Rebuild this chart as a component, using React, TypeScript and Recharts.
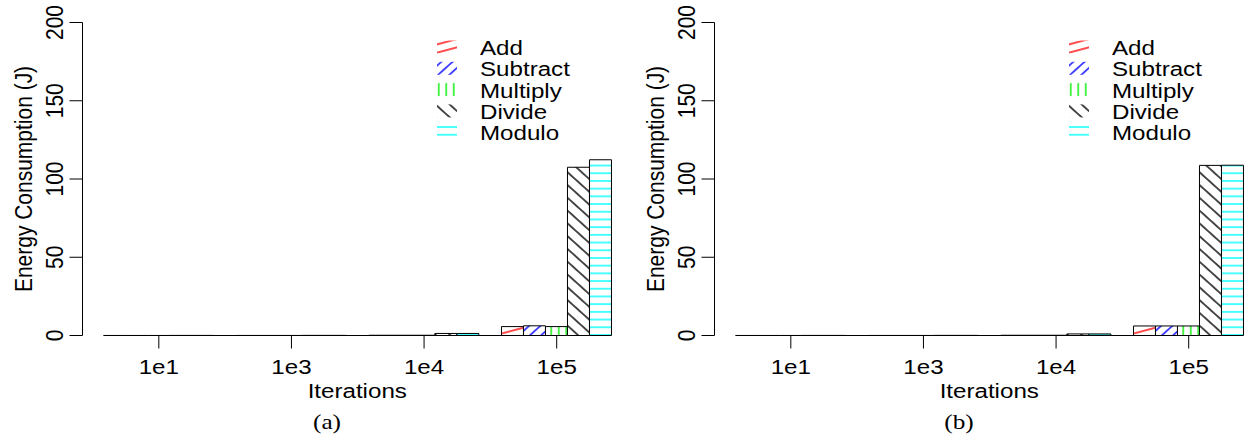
import { BarChart, Bar, XAxis, YAxis, ReferenceLine, Legend } from 'recharts'

const iterations = ['1e1', '1e3', '1e4', '1e5']
const yTicks = [0, 50, 100, 150, 200]

// energy in joules, panel (a)
const addA = [0.02, 0.03, 0.15, 5.7]
const subtractA = [0.02, 0.03, 0.15, 6.2]
const multiplyA = [0.02, 0.03, 0.15, 5.7]
const divideA = [0.05, 0.08, 1.3, 107.5]
const moduloA = [0.05, 0.08, 1.3, 112.3]

// energy in joules, panel (b)
const addB = [0.02, 0.03, 0.15, 6.1]
const subtractB = [0.02, 0.03, 0.15, 6.1]
const multiplyB = [0.02, 0.03, 0.15, 6.1]
const divideB = [0.05, 0.08, 1.0, 108.7]
const moduloB = [0.05, 0.08, 1.0, 108.8]

// hatch style per operation
const series = [
  { key: 'add', name: 'Add', color: '#ff0000', angle: -15, gap: 8 },
  { key: 'subtract', name: 'Subtract', color: '#0000ff', angle: -42, gap: 7.5 },
  { key: 'multiply', name: 'Multiply', color: '#00ee00', angle: 90, gap: 7.5 },
  { key: 'divide', name: 'Divide', color: '#000000', angle: 42, gap: 9.5 },
  { key: 'modulo', name: 'Modulo', color: '#00ffff', angle: 0, gap: 7.7 },
]

const SANS = '"Liberation Sans", Arial, sans-serif'
const SERIF = '"Liberation Serif", "Times New Roman", serif'
const FONT = 21
const SX = 1.15 // glyphs are a bit wide in the original plot

function buildRows(vals: Record<string, number[]>) {
  return iterations.map((iter, i) => {
    const row: Record<string, string | number> = { iter }
    for (const s of series) row[s.key] = vals[s.key][i]
    return row
  })
}

function Txt({ x, y, rotate, anchor = 'middle', family = SANS, size = FONT, children }: any) {
  const t = `translate(${x},${y}) scale(${SX},1)` + (rotate ? ` rotate(${rotate})` : '')
  return (
    <text transform={t} textAnchor={anchor} fontSize={size} fontFamily={family} fill="#000">
      {children}
    </text>
  )
}

function XTick({ x, y, payload }: any) {
  return <Txt x={x} y={y + 25}>{payload.value}</Txt>
}

function YTick({ x, y, payload }: any) {
  return <Txt x={x - 6.5} y={y} rotate={-90}>{payload.value}</Txt>
}

function HatchDefs({ id }: { id: string }) {
  return (
    <defs>
      {series.map((s) => (
        <pattern
          key={s.key}
          id={`${id}-${s.key}`}
          patternUnits="userSpaceOnUse"
          width={10}
          height={s.gap}
          patternTransform={`rotate(${s.angle})`}
        >
          <rect width={10} height={s.gap} fill="#fff" />
          <line
            x1={-1}
            x2={11}
            y1={s.gap / 2}
            y2={s.gap / 2}
            stroke={s.color}
            strokeWidth={1.4}
          />
        </pattern>
      ))}
    </defs>
  )
}

function HatchLegend({ id }: { id: string }) {
  return (
    <svg width={632} height={160}>
      {series.map((s, i) => {
        const cy = 47 + i * 21.3
        return (
          <g key={s.key}>
            <rect x={437} y={cy - 6.5} width={20} height={13} fill={`url(#${id}-${s.key})`} />
            <Txt x={480} y={cy + 8} anchor="start">{s.name}</Txt>
          </g>
        )
      })}
    </svg>
  )
}

function Panel({ id, caption, vals }: { id: string; caption: string; vals: Record<string, number[]> }) {
  const rows = buildRows(vals)
  return (
    <div style={{ position: 'relative', width: 632, height: 442 }}>
      <BarChart
        width={632}
        height={442}
        data={rows}
        margin={{ top: 22.5, right: 0, left: 0, bottom: 0 }}
        barCategoryGap={11.1}
        barGap={0}
      >
        <HatchDefs id={id} />
        <XAxis
          dataKey="iter"
          height={106.5}
          padding={{ left: 10, right: 9 }}
          axisLine={false}
          tickLine={{ stroke: '#000' }}
          tickSize={13}
          tickMargin={0}
          interval={0}
          tick={<XTick />}
          label={({ viewBox }: any) => (
            <Txt x={viewBox.x + viewBox.width / 2} y={398}>Iterations</Txt>
          )}
        />
        <YAxis
          width={82.5}
          domain={[0, 200]}
          ticks={yTicks}
          axisLine={{ stroke: '#000' }}
          tickLine={{ stroke: '#000' }}
          tickSize={13}
          tickMargin={0}
          tick={<YTick />}
          label={({ viewBox }: any) => (
            <Txt x={32} y={viewBox.y + viewBox.height / 2} rotate={-90}>Energy Consumption (J)</Txt>
          )}
        />
        <ReferenceLine
          segment={[{ x: '1e1', y: 0 }, { x: '1e5', y: 0 }]}
          stroke="#000"
          strokeWidth={1}
        />
        {series.map((s) => (
          <Bar
            key={s.key}
            dataKey={s.key}
            name={s.name}
            fill={`url(#${id}-${s.key})`}
            stroke="#000"
            strokeWidth={1}
            isAnimationActive={false}
          />
        ))}
        <Legend
          layout="vertical"
          align="center"
          verticalAlign="middle"
          wrapperStyle={{ position: 'absolute', left: 0, top: 0, width: 632, height: 160 }}
          content={() => <HatchLegend id={id} />}
        />
      </BarChart>
      <svg
        width={632}
        height={442}
        style={{ position: 'absolute', left: 0, top: 0, pointerEvents: 'none' }}
      >
        <Txt x={327} y={429} family={SERIF} size={22}>{caption}</Txt>
      </svg>
    </div>
  )
}

export default function App() {
  return (
    <div
      style={{
        position: 'absolute',
        left: 0,
        top: 0,
        width: 1246,
        height: 442,
        overflow: 'hidden',
        background: '#fff',
      }}
    >
      <div style={{ position: 'absolute', left: 0, top: 0 }}>
        <Panel
          id="ha"
          caption="(a)"
          vals={{ add: addA, subtract: subtractA, multiply: multiplyA, divide: divideA, modulo: moduloA }}
        />
      </div>
      <div style={{ position: 'absolute', left: 632, top: 0 }}>
        <Panel
          id="hb"
          caption="(b)"
          vals={{ add: addB, subtract: subtractB, multiply: multiplyB, divide: divideB, modulo: moduloB }}
        />
      </div>
    </div>
  )
}
